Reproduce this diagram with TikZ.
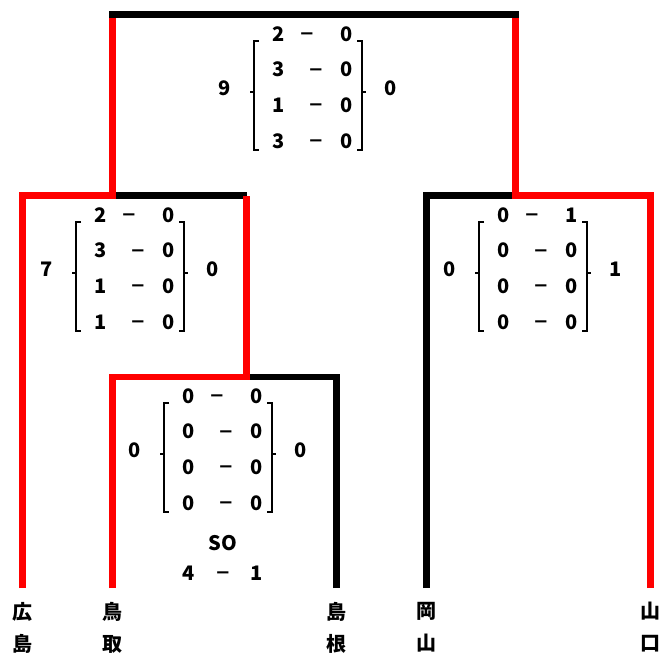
\documentclass[tikz,border=0pt]{standalone}
\usepackage{fontspec}
\newfontfamily\jpfont{Noto Sans CJK JP}
\newfontfamily\dashfont{DejaVu Sans}
\usetikzlibrary{positioning}

% score block: name, centre, left total, right total, rows a/b
\newcommand{\scorebox}[5]{%
  \begin{scope}[shift={#2}]
    \node[score] (#1L) at (-83,0) {#3};
    \node[score] (#1R) at (83,0) {#4};
    \draw[bracket] (-49,-47) -- (-54,-47) -- (-54,62) -- (-49,62);
    \draw[bracket] (-54,4) -- (-58,4);
    \draw[bracket] (49,-47) -- (54,-47) -- (54,62) -- (49,62);
    \draw[bracket] (54,4) -- (58,4);
    \foreach \a/\b [count=\i] in {#5} {
      \pgfmathsetmacro{\ry}{-54+35.67*(\i-1)}
      \ifnum\i=1 \def\dx{-1}\else\def\dx{8}\fi
      \node[score] (#1a\i) at (-29,\ry) {\a};
      \node[minus] (#1d\i) at (\dx,\ry) {−};
      \node[score] (#1b\i) at (39,\ry) {\b};
    }
  \end{scope}}

\begin{document}
\begin{tikzpicture}[x=1pt,y=-1pt]

  %Styles for picture
  \tikzset
  {
  win/.style={red, line width=6.5pt, line join=miter},
  lose/.style={black, line width=6.5pt, line join=miter},
  score/.style={inner sep=0pt, font=\jpfont\bfseries\fontsize{20}{20}\selectfont},
  minus/.style={inner sep=0pt, yshift=-2pt, font=\dashfont\bfseries\fontsize{18}{18}\selectfont},
  team/.style={anchor=north, align=center, inner xsep=0pt, inner ysep=14pt, font=\jpfont\bfseries\fontsize{20}{32}\selectfont},
  bracket/.style={line width=1.3pt},
  }

  \useasboundingbox (0,0) rectangle (661,657);

  %Teams
  \node[team] (hiro) at (22.5,588) {広\\島};
  \node[team] (tott) at (112.5,588) {鳥\\取};
  \node[team] (shim) at (336.5,588) {島\\根};
  \node[team] (okay) at (426.5,588) {岡\\山};
  \node[team] (yama) at (650.5,588) {山\\口};

  %Junctions
  \coordinate (finL) at (112.5,14.5);
  \coordinate (finR) at (515.5,14.5);
  \coordinate (semiL) at (112.5,195.5);
  \coordinate (semiR) at (515.5,195.5);
  \coordinate (qf) at (246.5,377);

  %Edges
  \draw[lose] (shim.north) |- (qf);
  \draw[lose] (semiL) -- (qf |- semiL);
  \draw[lose] (okay.north) |- (semiR);
  \draw[win] (hiro.north) |- (semiL) -- (finL);
  \draw[win] (tott.north) |- (qf) -- (qf |- semiL);
  \draw[win] (yama.north) |- (semiR) -- (finR);
  \draw[lose, line cap=rect] (finL) -- (finR);

  %Scores
  \scorebox{f}{(308,88)}{9}{0}{2/0,3/0,1/0,3/0}
  \scorebox{s}{(130,269)}{7}{0}{2/0,3/0,1/0,1/0}
  \scorebox{t}{(533,269)}{0}{1}{0/1,0/0,0/0,0/0}
  \scorebox{q}{(218,450)}{0}{0}{0/0,0/0,0/0,0/0}
  \node[score] (so) at (223,543) {SO};
  \node[score] (pkL) at (189,573) {4};
  \node[minus] (pkD) at (223,573) {−};
  \node[score] (pkR) at (257,573) {1};
\end{tikzpicture}
\end{document}
